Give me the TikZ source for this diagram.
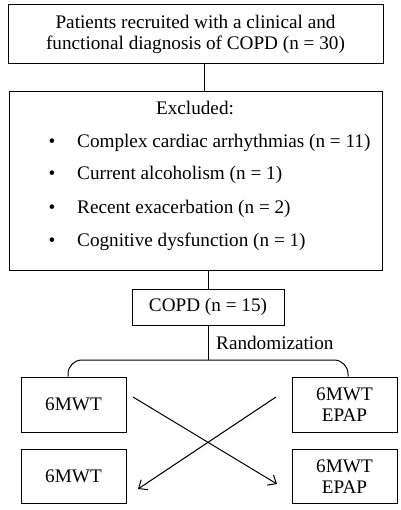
\documentclass[tikz,border=0pt]{standalone}
\usepackage{fontspec}
\setmainfont{Liberation Serif}
\usetikzlibrary{arrows.meta}
\begin{document}
\begin{tikzpicture}[x=1pt,y=-1pt,
  box/.style={draw, line width=1pt, rectangle, inner sep=0pt, align=center, font=\fontsize{19.2}{21.5}\selectfont},
  txt/.style={inner sep=0pt, font=\fontsize{19.2}{21.5}\selectfont},
  link/.style={line width=1pt},
  cross/.style={line width=1pt, -{Straight Barb[length=7pt,width=12pt,line width=1pt]}}]
\useasboundingbox[fill=white] (0,0) rectangle (400,510);
% boxes
\node[box, minimum width=375pt, minimum height=59pt] (top) at (195.5,34.5)
  {Patients recruited with a clinical and\\functional diagnosis of COPD (n = 30)};
\node[box, minimum width=373pt, minimum height=178pt] (excl) at (195.5,181) {};
\node[txt] (exh) at (195,108) {Excluded:};
\node[txt] (b1) at (52,143) {•};
\node[txt] (b2) at (52,175) {•};
\node[txt] (b3) at (52,209) {•};
\node[txt] (b4) at (52,242) {•};
\node[txt, anchor=west] (e1) at (77,143) {Complex cardiac arrhythmias (n = 11)};
\node[txt, anchor=west] (e2) at (77,175) {Current alcoholism (n = 1)};
\node[txt, anchor=west] (e3) at (77,209) {Recent exacerbation (n = 2)};
\node[txt, anchor=west] (e4) at (77,242) {Cognitive dysfunction (n = 1)};
\node[box, minimum width=152pt, minimum height=36pt] (copd) at (208,307) {COPD (n = 15)};
\node[txt, anchor=west] (rand) at (216,343) {Randomization};
\node[box, minimum width=105pt, minimum height=55pt] (l1) at (73.5,404.5) {6MWT};
\node[box, minimum width=105pt, minimum height=55pt] (r1) at (344.5,404.5) {6MWT\\EPAP};
\node[box, minimum width=105pt, minimum height=54pt] (l2) at (73.5,476) {6MWT};
\node[box, minimum width=105pt, minimum height=54pt] (r2) at (344.5,476.5) {6MWT\\EPAP};
% coordinates
\coordinate (c1) at (204,0);
\coordinate (split) at (208,360);
\coordinate (bl) at (68,0);
\coordinate (br) at (348,0);
\coordinate (a1s) at (133,397);
\coordinate (a1e) at (277,484);
\coordinate (a2s) at (276,397);
\coordinate (a2e) at (138,489);
% connectors
\draw[link] (top.south -| c1) -- (excl.north -| c1);
\draw[link] (excl.south -| copd.north) -- (copd.north);
\draw[link] (copd.south) -- (split);
\draw[link, rounded corners=14pt] (bl |- l1.north) |- (split) -| (br |- r1.north);
\draw[cross] (a1s) -- (a1e);
\draw[cross] (a2s) -- (a2e);
\end{tikzpicture}
\end{document}
